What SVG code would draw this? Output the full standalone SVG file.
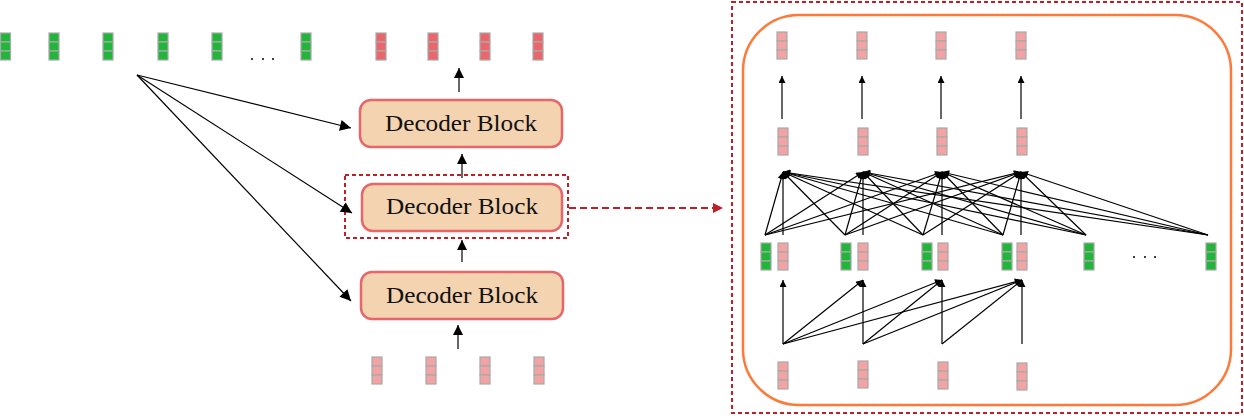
<svg xmlns="http://www.w3.org/2000/svg" xmlns:xlink="http://www.w3.org/1999/xlink" width="1244" height="416" viewBox="0 0 1244 416">
<style>
.cell{stroke:#a9a9a9;stroke-width:1.2}
.g{fill:#21b63a}
.r{fill:#ea666b}
.p{fill:#f2a3a4}
.blk{fill:#f4d3b0;stroke:#e8656a;stroke-width:2.5}
.lbl{font-family:"Liberation Serif","DejaVu Serif",serif;font-size:23px;fill:#111}
.ln{stroke:#000;stroke-width:1.2;fill:none}
.dash{stroke:#bf1f26;stroke-width:2;fill:none;stroke-dasharray:4 3}
.dashl{stroke:#bf1f26;stroke-width:2;fill:none;stroke-dasharray:7 4}
</style>
<defs>
<marker id="big" viewBox="0 0 10 10" refX="10" refY="5" markerWidth="13" markerHeight="11" markerUnits="userSpaceOnUse" orient="auto"><path d="M0,0 L10,5 L0,10 z" fill="#000"/></marker>
<marker id="mid" viewBox="0 0 10 10" refX="10" refY="5" markerWidth="11" markerHeight="10" markerUnits="userSpaceOnUse" orient="auto"><path d="M0,0 L10,5 L0,10 z" fill="#000"/></marker>
<marker id="sm" viewBox="0 0 10 10" refX="10" refY="5" markerWidth="8" markerHeight="7" markerUnits="userSpaceOnUse" orient="auto"><path d="M0,0 L10,5 L0,10 z" fill="#000"/></marker>
<marker id="red" viewBox="0 0 10 10" refX="10" refY="5" markerWidth="13" markerHeight="10" markerUnits="userSpaceOnUse" orient="auto"><path d="M0,0 L10,5 L0,10 z" fill="#bf1f26"/></marker>
<g id="vg"><rect class="cell g" x="0" y="0" width="10" height="9"/><rect class="cell g" x="0" y="9" width="10" height="9"/><rect class="cell g" x="0" y="18" width="10" height="9"/></g>
<g id="vr"><rect class="cell r" x="0" y="0" width="10" height="9"/><rect class="cell r" x="0" y="9" width="10" height="9"/><rect class="cell r" x="0" y="18" width="10" height="9"/></g>
<g id="vp"><rect class="cell p" x="0" y="0" width="10" height="9"/><rect class="cell p" x="0" y="9" width="10" height="9"/><rect class="cell p" x="0" y="18" width="10" height="9"/></g>
</defs>

<g id="input-embeddings">
<use xlink:href="#vg" x="0.5" y="33"/>
<use xlink:href="#vg" x="49" y="33"/>
<use xlink:href="#vg" x="103" y="33"/>
<use xlink:href="#vg" x="158" y="33"/>
<use xlink:href="#vg" x="212" y="33"/>
<use xlink:href="#vg" x="301" y="33"/>
<circle cx="252" cy="59" r="1" fill="#000"/>
<circle cx="263" cy="59" r="1" fill="#000"/>
<circle cx="273" cy="59" r="1" fill="#000"/>
</g>

<g id="output-tokens">
<use xlink:href="#vr" x="376" y="33"/>
<use xlink:href="#vr" x="428" y="33"/>
<use xlink:href="#vr" x="480" y="33"/>
<use xlink:href="#vr" x="533" y="33"/>
</g>

<g id="decoder-top">
<rect class="blk" x="360" y="100" width="202" height="47" rx="11"/>
<text class="lbl" x="461" y="131" text-anchor="middle" textLength="152" lengthAdjust="spacingAndGlyphs">Decoder Block</text>
</g>
<g id="decoder-mid">
<rect class="dash" x="345" y="175" width="223" height="63"/>
<rect class="blk" x="362" y="184" width="200" height="47" rx="11"/>
<text class="lbl" x="462" y="214" text-anchor="middle" textLength="152" lengthAdjust="spacingAndGlyphs">Decoder Block</text>
</g>
<g id="decoder-bottom">
<rect class="blk" x="361" y="272" width="202" height="47" rx="11"/>
<text class="lbl" x="462" y="303" text-anchor="middle" textLength="152" lengthAdjust="spacingAndGlyphs">Decoder Block</text>
</g>

<g id="input-tokens">
<use xlink:href="#vp" x="372" y="357"/>
<use xlink:href="#vp" x="426" y="357"/>
<use xlink:href="#vp" x="480" y="357"/>
<use xlink:href="#vp" x="534" y="357"/>
</g>

<g id="connectors">
<line class="ln" x1="137" y1="75" x2="351" y2="128" marker-end="url(#big)"/>
<line class="ln" x1="137" y1="75" x2="352" y2="213" marker-end="url(#big)"/>
<line class="ln" x1="137" y1="75" x2="351" y2="301" marker-end="url(#big)"/>
<line class="ln" x1="459" y1="92" x2="459" y2="68" marker-end="url(#mid)"/>
<line class="ln" x1="462" y1="178" x2="462" y2="154" marker-end="url(#mid)"/>
<line class="ln" x1="462" y1="262" x2="462" y2="240" marker-end="url(#mid)"/>
<line class="ln" x1="458" y1="349" x2="458" y2="325" marker-end="url(#mid)"/>
<line class="dashl" x1="569" y1="208" x2="723" y2="208" marker-end="url(#red)"/>
</g>

<g id="detail-panel">
<rect class="dash" x="732" y="2" width="510" height="411"/>
<rect x="743" y="15" width="488" height="390" rx="56" fill="none" stroke="#fd7a3a" stroke-width="2.5"/>
</g>

<g id="panel-outputs">
<use xlink:href="#vp" x="777" y="32"/>
<use xlink:href="#vp" x="857" y="32"/>
<use xlink:href="#vp" x="936" y="32"/>
<use xlink:href="#vp" x="1016" y="32"/>
</g>
<g id="panel-hidden">
<use xlink:href="#vp" x="778" y="128"/>
<use xlink:href="#vp" x="858" y="128"/>
<use xlink:href="#vp" x="937" y="128"/>
<use xlink:href="#vp" x="1017" y="128"/>
</g>
<g id="panel-middle">
<use xlink:href="#vg" x="761" y="243"/>
<use xlink:href="#vp" x="778" y="243"/>
<use xlink:href="#vg" x="841" y="243"/>
<use xlink:href="#vp" x="858" y="243"/>
<use xlink:href="#vg" x="922" y="243"/>
<use xlink:href="#vp" x="938" y="243"/>
<use xlink:href="#vg" x="1002" y="243"/>
<use xlink:href="#vp" x="1017" y="243"/>
<use xlink:href="#vg" x="1084" y="243"/>
<use xlink:href="#vg" x="1206" y="243"/>
<circle cx="1134" cy="257" r="1" fill="#000"/>
<circle cx="1145" cy="257" r="1" fill="#000"/>
<circle cx="1155" cy="257" r="1" fill="#000"/>
</g>
<g id="panel-inputs">
<use xlink:href="#vp" x="778" y="362"/>
<use xlink:href="#vp" x="858" y="361"/>
<use xlink:href="#vp" x="938" y="362"/>
<use xlink:href="#vp" x="1017" y="363"/>
</g>

<g id="panel-connectors">
<line class="ln" x1="782" y1="119" x2="782" y2="76" marker-end="url(#sm)"/>
<line class="ln" x1="862" y1="119" x2="862" y2="76" marker-end="url(#sm)"/>
<line class="ln" x1="941" y1="119" x2="941" y2="76" marker-end="url(#sm)"/>
<line class="ln" x1="1021" y1="119" x2="1021" y2="76" marker-end="url(#sm)"/>

<line class="ln" x1="783" y1="235" x2="783" y2="172" marker-end="url(#sm)"/>
<line class="ln" x1="765" y1="235" x2="783" y2="172" marker-end="url(#sm)"/>
<line class="ln" x1="845" y1="235" x2="783" y2="172" marker-end="url(#sm)"/>
<line class="ln" x1="923" y1="235" x2="783" y2="172" marker-end="url(#sm)"/>
<line class="ln" x1="1003" y1="235" x2="783" y2="172" marker-end="url(#sm)"/>
<line class="ln" x1="1086" y1="235" x2="783" y2="172" marker-end="url(#sm)"/>
<line class="ln" x1="1208" y1="235" x2="783" y2="172" marker-end="url(#sm)"/>

<line class="ln" x1="863" y1="235" x2="863" y2="172" marker-end="url(#sm)"/>
<line class="ln" x1="765" y1="235" x2="863" y2="172" marker-end="url(#sm)"/>
<line class="ln" x1="845" y1="235" x2="863" y2="172" marker-end="url(#sm)"/>
<line class="ln" x1="923" y1="235" x2="863" y2="172" marker-end="url(#sm)"/>
<line class="ln" x1="1003" y1="235" x2="863" y2="172" marker-end="url(#sm)"/>
<line class="ln" x1="1086" y1="235" x2="863" y2="172" marker-end="url(#sm)"/>
<line class="ln" x1="1208" y1="235" x2="863" y2="172" marker-end="url(#sm)"/>

<line class="ln" x1="942" y1="235" x2="942" y2="172" marker-end="url(#sm)"/>
<line class="ln" x1="765" y1="235" x2="942" y2="172" marker-end="url(#sm)"/>
<line class="ln" x1="845" y1="235" x2="942" y2="172" marker-end="url(#sm)"/>
<line class="ln" x1="923" y1="235" x2="942" y2="172" marker-end="url(#sm)"/>
<line class="ln" x1="1003" y1="235" x2="942" y2="172" marker-end="url(#sm)"/>
<line class="ln" x1="1086" y1="235" x2="942" y2="172" marker-end="url(#sm)"/>
<line class="ln" x1="1208" y1="235" x2="942" y2="172" marker-end="url(#sm)"/>

<line class="ln" x1="1021" y1="235" x2="1021" y2="172" marker-end="url(#sm)"/>
<line class="ln" x1="765" y1="235" x2="1021" y2="172" marker-end="url(#sm)"/>
<line class="ln" x1="845" y1="235" x2="1021" y2="172" marker-end="url(#sm)"/>
<line class="ln" x1="923" y1="235" x2="1021" y2="172" marker-end="url(#sm)"/>
<line class="ln" x1="1003" y1="235" x2="1021" y2="172" marker-end="url(#sm)"/>
<line class="ln" x1="1086" y1="235" x2="1021" y2="172" marker-end="url(#sm)"/>
<line class="ln" x1="1208" y1="235" x2="1021" y2="172" marker-end="url(#sm)"/>

<line class="ln" x1="783" y1="344" x2="783" y2="280" marker-end="url(#sm)"/>
<line class="ln" x1="783" y1="344" x2="863" y2="280" marker-end="url(#sm)"/>
<line class="ln" x1="783" y1="344" x2="942" y2="280" marker-end="url(#sm)"/>
<line class="ln" x1="783" y1="344" x2="1022" y2="280" marker-end="url(#sm)"/>
<line class="ln" x1="863" y1="344" x2="863" y2="280" marker-end="url(#sm)"/>
<line class="ln" x1="863" y1="344" x2="942" y2="280" marker-end="url(#sm)"/>
<line class="ln" x1="863" y1="344" x2="1022" y2="280" marker-end="url(#sm)"/>
<line class="ln" x1="942" y1="344" x2="942" y2="280" marker-end="url(#sm)"/>
<line class="ln" x1="942" y1="344" x2="1022" y2="280" marker-end="url(#sm)"/>
<line class="ln" x1="1022" y1="344" x2="1022" y2="280" marker-end="url(#sm)"/>
</g>
</svg>
